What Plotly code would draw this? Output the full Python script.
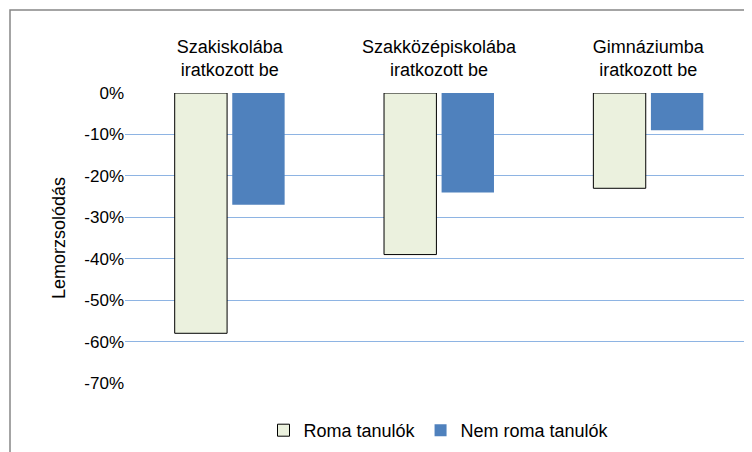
import plotly.graph_objects as go

categories = ["Szakiskolába<br>iratkozott be", "Szakközépiskolába<br>iratkozott be", "Gimnáziumba<br>iratkozott be"]
roma = [-0.58, -0.39, -0.23]
nem_roma = [-0.27, -0.24, -0.09]
tick_vals = [0, -0.1, -0.2, -0.3, -0.4, -0.5, -0.6, -0.7]
tick_text = ["0%", "-10%", "-20%", "-30%", "-40%", "-50%", "-60%", "-70%"]

W, H = 752, 452
L, R, T, B = 117, 7, 85, 77
pw, ph = W - L - R, H - T - B

fig = go.Figure()
fig.add_bar(x=categories, y=roma, name="Roma tanulók",
            marker=dict(color="#EBF1DE", line=dict(color="#000000", width=1)))
fig.add_bar(x=categories, y=nem_roma, name="Nem roma tanulók",
            marker=dict(color="#4F81BD", line=dict(width=0)))

fig.update_layout(
    width=W, height=H,
    margin=dict(l=L, r=R, t=T, b=B, autoexpand=False),
    plot_bgcolor="white", paper_bgcolor="white",
    font=dict(family="Liberation Sans, Arial", size=17, color="#000000"),
    barmode="group", bargap=0.45, bargroupgap=0.09,
    xaxis=dict(side="top", showline=False, ticks="", automargin=False,
               tickfont=dict(size=18), ticklabelstandoff=12),
    yaxis=dict(range=[-0.7, 0], tickvals=tick_vals, ticktext=tick_text,
               showgrid=True, gridcolor="#8EB4E3", gridwidth=1, automargin=False,
               zeroline=False, showline=False, tickfont=dict(size=17),
               title=dict(text="Lemorzsolódás", font=dict(size=18), standoff=14)),
    legend=dict(orientation="h", x=0.5, xanchor="center", y=-0.1, yanchor="top",
                font=dict(size=18)),
    shapes=[dict(type="rect", xref="paper", yref="paper",
                 x0=-(L - 2) / pw, x1=1 + (R - 2) / pw,
                 y0=-(B - 2) / ph, y1=1 + (T - 2) / ph,
                 line=dict(color="#868686", width=1.5))],
)

fig.write_html("out.html")
